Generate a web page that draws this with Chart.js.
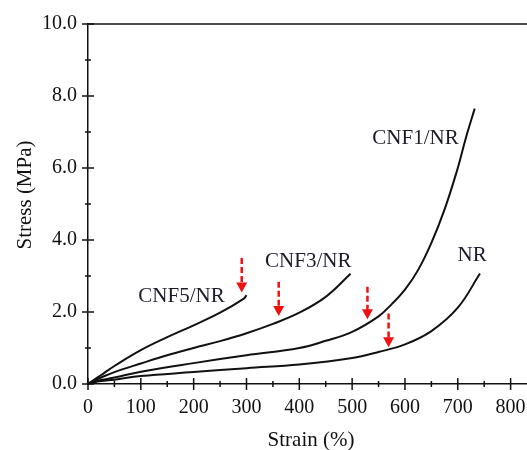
<!DOCTYPE html>
<html>
<head>
<meta charset="utf-8">
<script src="https://cdn.jsdelivr.net/npm/chart.js@4.4.0/dist/chart.umd.min.js"></script>
<style>
  html, body { margin: 0; padding: 0; background: #fff; }
</style>
</head>
<body>
<canvas id="stressChart" width="527" height="450"></canvas>
<script>
// stress-strain curves (strain %, stress MPa)
const cnf5Strain = [0, 10, 25, 50, 100, 150, 200, 250, 295, 300];
const cnf5Stress = [0, 0.1, 0.25, 0.5, 0.94, 1.3, 1.63, 1.98, 2.37, 2.47];

const cnf3Strain = [0, 10, 25, 50, 100, 150, 200, 250, 300, 350, 400, 450, 497];
const cnf3Stress = [0, 0.08, 0.18, 0.33, 0.57, 0.8, 1.0, 1.19, 1.41, 1.67, 1.98, 2.42, 3.06];

const cnf1Strain = [0, 10, 25, 50, 100, 200, 300, 400, 450, 500, 550, 575, 600, 625, 650, 675, 700, 715, 732];
const cnf1Stress = [0, 0.05, 0.11, 0.18, 0.34, 0.58, 0.8, 1.0, 1.2, 1.45, 1.88, 2.22, 2.62, 3.17, 3.92, 4.85, 6.0, 6.82, 7.65];

const nrStrain = [0, 10, 25, 50, 100, 200, 300, 400, 500, 550, 600, 650, 700, 742];
const nrStress = [0, 0.04, 0.08, 0.12, 0.22, 0.33, 0.44, 0.54, 0.72, 0.89, 1.1, 1.47, 2.12, 3.07];

const curveNames = ["CNF5/NR", "CNF3/NR", "CNF1/NR", "NR"];

// red dashed arrows: strain, stress at top of shaft, stress at tip
const arrowStrain = [291, 361, 529, 569];
const arrowTop = [3.5, 2.84, 2.7, 1.96];
const arrowTip = [2.54, 1.89, 1.8, 1.02];

// where the curve names sit (data coords of text centre)
const labelStrain = [177, 417, 620, 727];
const labelStress = [2.43, 3.39, 6.83, 3.56];

const serif = "'Liberation Serif', 'Times New Roman', serif";

function toPoints(xs, ys) {
  return xs.map((x, i) => ({ x: x, y: ys[i] }));
}

const curveStyle = {
  borderColor: "#111",
  borderWidth: 2,
  pointRadius: 0,
  fill: false,
  tension: 0.4,
};

// ticks crossing the axes, top border, arrows, curve names, axis titles
const extrasPlugin = {
  id: "extras",
  afterDatasetsDraw(chart) {
    const ctx = chart.ctx;
    const xs = chart.scales.x;
    const ys = chart.scales.y;
    const area = chart.chartArea;

    ctx.save();
    ctx.strokeStyle = "#111";
    ctx.lineWidth = 1.5;

    // top border
    ctx.beginPath();
    ctx.moveTo(area.left, area.top);
    ctx.lineTo(area.right, area.top);
    ctx.stroke();

    // y ticks
    for (let v = 0; v <= 10; v += 1) {
      let py = ys.getPixelForValue(v);
      let len = v % 2 === 0 ? 6 : 3;
      ctx.beginPath();
      ctx.moveTo(area.left - len, py);
      ctx.lineTo(area.left + len, py);
      ctx.stroke();
    }
    // x ticks
    for (let v = 0; v <= 800; v += 50) {
      let px = xs.getPixelForValue(v);
      let len = v % 100 === 0 ? 6 : 3;
      ctx.beginPath();
      ctx.moveTo(px, area.bottom - len);
      ctx.lineTo(px, area.bottom + len);
      ctx.stroke();
    }

    // arrows
    ctx.strokeStyle = "#ee1111";
    ctx.fillStyle = "#ee1111";
    ctx.lineWidth = 2.5;
    arrowStrain.forEach((s, i) => {
      let px = xs.getPixelForValue(s);
      let top = ys.getPixelForValue(arrowTop[i]);
      let tip = ys.getPixelForValue(arrowTip[i]);
      ctx.setLineDash([6, 3]);
      ctx.beginPath();
      ctx.moveTo(px, top);
      ctx.lineTo(px, tip - 9);
      ctx.stroke();
      ctx.setLineDash([]);
      ctx.beginPath();
      ctx.moveTo(px - 5.5, tip - 10);
      ctx.lineTo(px + 5.5, tip - 10);
      ctx.lineTo(px, tip);
      ctx.closePath();
      ctx.fill();
    });

    // curve names
    ctx.fillStyle = "#1a1a2a";
    ctx.font = "21px " + serif;
    ctx.textAlign = "center";
    ctx.textBaseline = "middle";
    curveNames.forEach((name, i) => {
      ctx.fillText(name, xs.getPixelForValue(labelStrain[i]), ys.getPixelForValue(labelStress[i]));
    });

    // axis titles
    ctx.fillStyle = "#111";
    ctx.fillText("Strain (%)", 311, 440);
    ctx.translate(25, 195);
    ctx.rotate(-Math.PI / 2);
    ctx.fillText("Stress (MPa)", 0, 0);
    ctx.restore();
  },
};

let ctx = document.getElementById("stressChart").getContext("2d");
let myChart = new Chart(ctx, {
  type: "line",
  data: {
    datasets: [
      { label: curveNames[0], data: toPoints(cnf5Strain, cnf5Stress), ...curveStyle },
      { label: curveNames[1], data: toPoints(cnf3Strain, cnf3Stress), ...curveStyle },
      { label: curveNames[2], data: toPoints(cnf1Strain, cnf1Stress), ...curveStyle },
      { label: curveNames[3], data: toPoints(nrStrain, nrStress), ...curveStyle },
    ],
  },
  options: {
    responsive: false,
    animation: false,
    layout: { padding: { top: 24, right: 0, left: 0, bottom: 0 } },
    plugins: {
      legend: { display: false },
      tooltip: { enabled: false },
    },
    scales: {
      x: {
        type: "linear",
        min: 0,
        max: 831,
        grid: { display: false, drawTicks: false },
        border: { display: true, color: "#111", width: 1.5 },
        ticks: {
          stepSize: 100,
          includeBounds: false,
          maxRotation: 0,
          autoSkip: false,
          padding: 12,
          color: "#111",
          font: { family: serif, size: 20 },
        },
        afterFit(scale) {
          scale.height = 66;
          scale.paddingLeft = 0;
          scale.paddingRight = 0;
        },
      },
      y: {
        min: 0,
        max: 10,
        grid: { display: false, drawTicks: false },
        border: { display: true, color: "#111", width: 1.5 },
        ticks: {
          stepSize: 2,
          padding: 11,
          color: "#111",
          font: { family: serif, size: 20 },
          callback: (v) => v.toFixed(1),
        },
        afterFit(scale) {
          scale.width = 88;
          scale.paddingTop = 0;
          scale.paddingBottom = 0;
        },
      },
    },
  },
  plugins: [extrasPlugin],
});
</script>
</body>
</html>
